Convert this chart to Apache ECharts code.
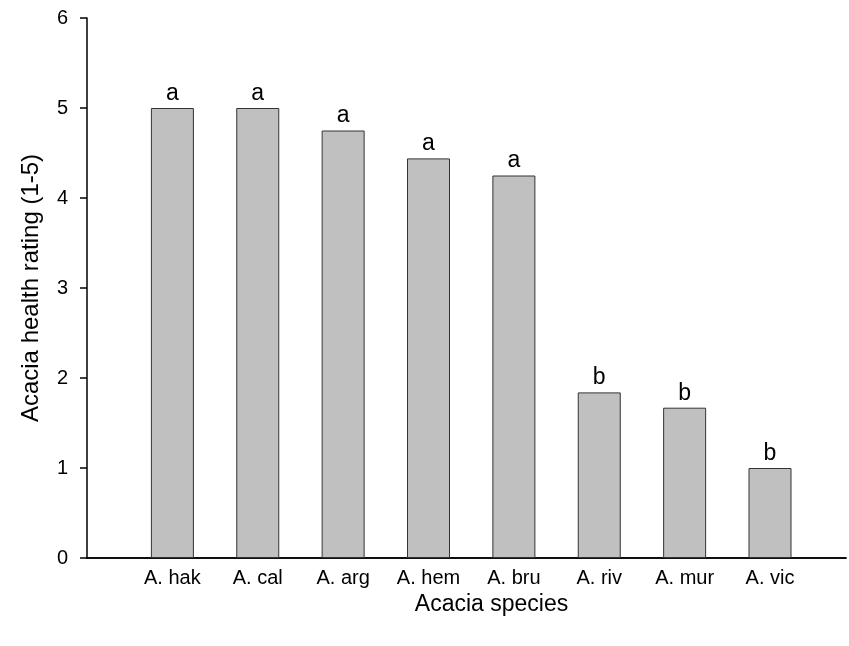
<!DOCTYPE html>
<html>
<head>
<meta charset="utf-8">
<script src="https://cdn.jsdelivr.net/npm/echarts@6/dist/echarts.min.js"></script>
<style>html,body{margin:0;padding:0;background:#fff}#c{width:849px;height:646px}</style>
</head>
<body>
<div id="c"></div>
<script>
var categories = ['A. hak','A. cal','A. arg','A. hem','A. bru','A. riv','A. mur','A. vic'];
var healthValues = [5.0, 5.0, 4.75, 4.44, 4.25, 1.84, 1.67, 1.0];
var groupLetters = ['a','a','a','a','a','b','b','b'];
var yTicks = [0,1,2,3,4,5,6];

var FONT = 'Liberation Sans, Arial, sans-serif';
var chart = echarts.init(document.getElementById('c'));
var data = healthValues.map(function(v,i){ return [i+1, v]; });
chart.setOption({
  animation:false,
  backgroundColor:'#fff',
  grid:{left:87, top:18, right:0, bottom:88},
  xAxis:[{
    type:'value', min:0, max:8.89, interval:1,
    axisLine:{show:true, onZero:false, lineStyle:{color:'#000', width:1.5}},
    axisTick:{show:false}, splitLine:{show:false},
    showMaxLabel:false,
    axisLabel:{color:'#000', fontFamily:FONT, fontSize:20, margin:10,
      formatter:function(v){ return Number.isInteger(v) && v>=1 && v<=categories.length ? categories[v-1] : ''; }},
    name:'Acacia species', nameLocation:'middle', nameGap:30,
    nameTextStyle:{color:'#000', fontFamily:FONT, fontSize:23, padding:[0,0,0,50]}
  },{
    type:'value', position:'top', min:0, max:8.89,
    axisLine:{show:true, lineStyle:{color:'#000', width:1.5}},
    axisTick:{show:false}, axisLabel:{show:false}, splitLine:{show:false}
  }],
  yAxis:{
    type:'value', min:yTicks[0], max:yTicks[yTicks.length-1], interval:1,
    axisLine:{show:true, lineStyle:{color:'#000', width:1.5}},
    axisTick:{show:true, inside:false, length:7, lineStyle:{color:'#000', width:1.5}},
    splitLine:{show:false},
    axisLabel:{color:'#000', fontFamily:FONT, fontSize:20, margin:19},
    name:'Acacia health rating (1-5)', nameLocation:'middle', nameGap:44,
    nameTextStyle:{color:'#000', fontFamily:FONT, fontSize:24}
  },
  series:[{
    type:'bar', xAxisIndex:0, data:data, barWidth:43,
    itemStyle:{color:'#c0c0c0', borderColor:'#333', borderWidth:1},
    label:{show:true, position:'top', distance:3, color:'#000', fontFamily:FONT, fontSize:23,
      formatter:function(p){ return groupLetters[p.dataIndex]; }}
  }]
});
</script>
</body>
</html>
